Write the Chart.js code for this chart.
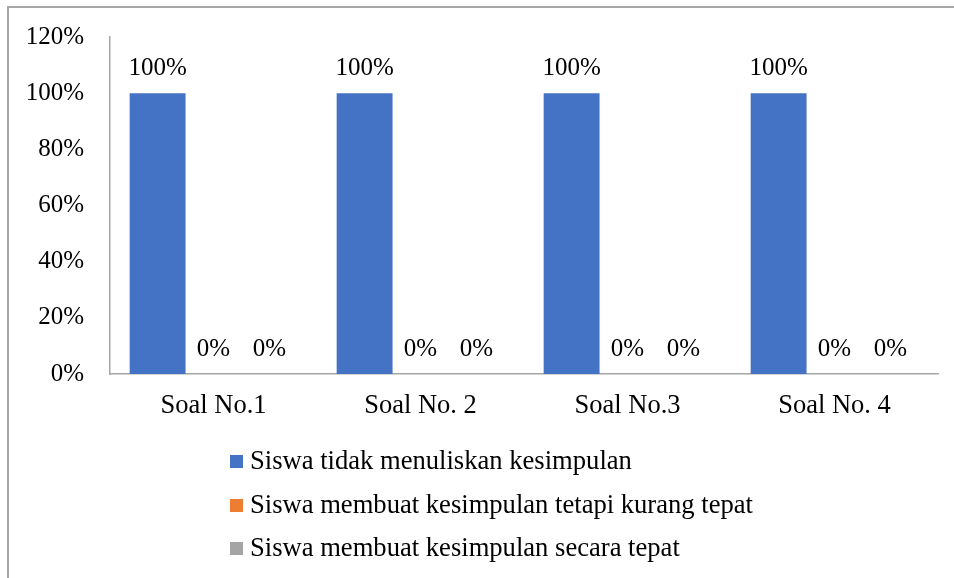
<!DOCTYPE html>
<html>
<head>
<meta charset="utf-8">
<script src="https://cdn.jsdelivr.net/npm/chart.js@4/dist/chart.umd.min.js"></script>
<style>
  html, body { margin: 0; padding: 0; background: #fff; }
  #frame {
    position: absolute; left: 7px; top: 6px; width: 980px; height: 600px;
    border-left: 2px solid #a6a6a6; border-top: 2px solid #a6a6a6;
  }
  #wrap { position: absolute; left: 0; top: 0; width: 954px; height: 578px; overflow: hidden; }
  #legend {
    position: absolute; left: 230px; top: 441px;
    font-family: "Liberation Serif", "Times New Roman", serif; font-size: 26.6px; color: #000;
  }
  #legend .item { height: 43.5px; line-height: 38px; white-space: nowrap; }
  #legend .box { display: inline-block; width: 13px; height: 13px; margin-right: 7px; vertical-align: 1px; }
</style>
</head>
<body>
<div id="wrap">
  <div id="frame"></div>
  <canvas id="chart" width="954" height="578" style="position:absolute;left:0;top:0;width:954px;height:578px"></canvas>
  <div id="legend"></div>
</div>
<script>
// data
const categories = ['Soal No.1', 'Soal No. 2', 'Soal No.3', 'Soal No. 4'];
const seriesNames = [
  'Siswa tidak menuliskan kesimpulan',
  'Siswa membuat kesimpulan tetapi kurang tepat',
  'Siswa membuat kesimpulan secara tepat'
];
const tidakMenulis = [100, 100, 100, 100];
const kurangTepat = [0, 0, 0, 0];
const secaraTepat = [0, 0, 0, 0];
const colors = ['#4472C4', '#ED7D31', '#A5A5A5'];

const font = "'Liberation Serif', 'Times New Roman', serif";

// labels above the bars
const barLabels = {
  id: 'barLabels',
  afterDatasetsDraw(chart) {
    const ctx = chart.ctx;
    ctx.save();
    ctx.font = '25px ' + font;
    ctx.fillStyle = '#000';
    ctx.textAlign = 'center';
    ctx.textBaseline = 'alphabetic';
    chart.data.datasets.forEach((ds, i) => {
      chart.getDatasetMeta(i).data.forEach((bar, j) => {
        ctx.fillText(ds.data[j] + '%', bar.x, bar.y - 18);
      });
    });
    ctx.restore();
  }
};

const allSeries = [tidakMenulis, kurangTepat, secaraTepat];

new Chart(document.getElementById('chart'), {
  type: 'bar',
  data: {
    labels: categories,
    datasets: allSeries.map((vals, i) => ({
      label: seriesNames[i],
      data: vals,
      backgroundColor: colors[i],
      categoryPercentage: 0.81,
      barPercentage: 1.0
    }))
  },
  options: {
    responsive: false,
    animation: false,
    layout: { padding: { left: 8, right: 16, top: 37, bottom: 144 } },
    plugins: {
      legend: { display: false },
      tooltip: { enabled: false }
    },
    scales: {
      x: {
        grid: { display: false, drawTicks: false },
        border: { display: true, color: '#a6a6a6', width: 1.5 },
        ticks: { color: '#000', font: { family: font, size: 26.5 }, padding: 16, maxRotation: 0 },
        afterFit(scale) { scale.height = 60; }
      },
      y: {
        min: 0, max: 120,
        grid: { display: false, drawTicks: false },
        border: { display: true, color: '#a6a6a6', width: 1.5 },
        ticks: {
          stepSize: 20, color: '#000', padding: 26,
          font: { family: font, size: 25 },
          callback: v => v + '%'
        },
        afterFit(scale) {
          scale.width = 102;
          scale.paddingTop = 0;
          scale.paddingBottom = 0;
        }
      }
    }
  },
  plugins: [barLabels]
});

// legend, one entry per line
const legend = document.getElementById('legend');
seriesNames.forEach((name, i) => {
  const row = document.createElement('div');
  row.className = 'item';
  const box = document.createElement('span');
  box.className = 'box';
  box.style.background = colors[i];
  row.appendChild(box);
  row.appendChild(document.createTextNode(name));
  legend.appendChild(row);
});
</script>
</body>
</html>
